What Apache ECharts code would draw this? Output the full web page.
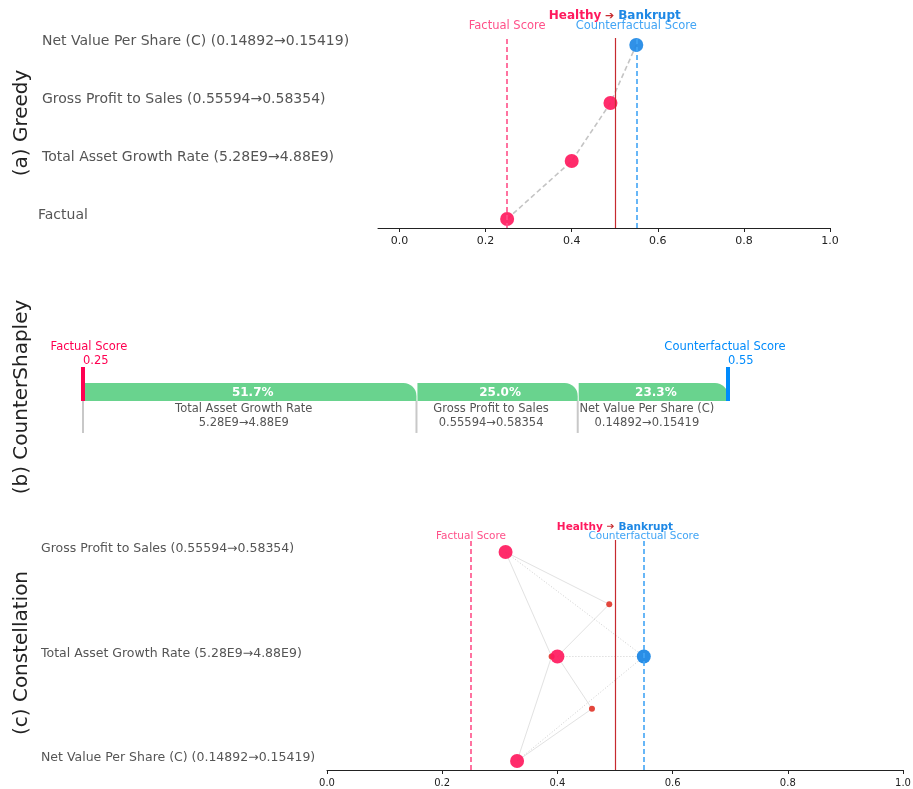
<!DOCTYPE html>
<html>
<head>
<meta charset="utf-8">
<script src="https://cdn.jsdelivr.net/npm/echarts@6/dist/echarts.min.js"></script>
<style>html,body{margin:0;padding:0;background:#fff}#main{width:913px;height:789px}</style>
</head>
<body>
<div id="main"></div>
<script>
// ---------- data ----------
const factualScore = 0.25;
const counterfactualScore = 0.55;
const threshold = 0.5;
const xTicks = [0, 0.2, 0.4, 0.6, 0.8, 1.0];

// (a) Greedy
const greedyLabels = ['Factual', 'Total Asset Growth Rate (5.28E9→4.88E9)', 'Gross Profit to Sales (0.55594→0.58354)', 'Net Value Per Share (C) (0.14892→0.15419)'];
const greedyScores = [0.25, 0.40, 0.49, 0.55];

// (b) CounterShapley
const shapleyFeatures = ['Total Asset Growth Rate', 'Gross Profit to Sales', 'Net Value Per Share (C)'];
const shapleyChanges = ['5.28E9→4.88E9', '0.55594→0.58354', '0.14892→0.15419'];
const shapleyPct = [51.7, 25.0, 23.3];

// (c) Constellation
const constLabels = ['Net Value Per Share (C) (0.14892→0.15419)', 'Total Asset Growth Rate (5.28E9→4.88E9)', 'Gross Profit to Sales (0.55594→0.58354)'];
const singleScores = [0.33, 0.40, 0.31];          // one feature changed, by row
const pairRows = [[2, 1], [1, 0], [2, 0]];         // two features changed
const pairScores = [0.49, 0.46, 0.39];
const fullScore = 0.55;                            // all three changed

// ---------- colours ----------
const PINK = '#ff1a5e';
const PINK_L = '#ff5089';
const BLUE = '#1e88e5';
const BLUE_L = '#42a5f5';
const DARKRED = '#c62a2f';
const GREEN = '#69d38e';
const FONT = 'DejaVu Sans';

const chart = echarts.init(document.getElementById('main'));

function fmt1(v) { return v.toFixed(1); }

function headerLabel(size, dist) {
  return {
    show: true, position: 'end', distance: dist,
    formatter: '{h|Healthy} {a|➔} {b|Bankrupt}',
    rich: {
      h: { color: PINK, fontWeight: 'bold', fontSize: size, fontFamily: FONT },
      a: { color: DARKRED, fontSize: size - 1, fontFamily: FONT },
      b: { color: BLUE, fontWeight: 'bold', fontSize: size, fontFamily: FONT }
    }
  };
}
function scoreLines(size, hsize, dist, hdrDist) {
  return {
    silent: true, symbol: 'none', animation: false,
    data: [
      { xAxis: factualScore, lineStyle: { color: PINK_L, type: [5, 3], width: 1.6 },
        label: { show: true, position: 'end', distance: dist, formatter: 'Factual Score', color: PINK_L, fontSize: size, fontFamily: FONT } },
      { xAxis: counterfactualScore, lineStyle: { color: BLUE_L, type: [5, 3], width: 1.6 },
        label: { show: true, position: 'end', distance: dist, formatter: 'Counterfactual Score', color: BLUE_L, fontSize: size, fontFamily: FONT } },
      { xAxis: threshold, lineStyle: { color: DARKRED, type: 'solid', width: 1.2 }, label: headerLabel(hsize, hdrDist) }
    ]
  };
}

// (b) segments
let cum = factualScore;
const span = counterfactualScore - factualScore;
const segData = shapleyPct.map((p, i) => { const s = cum; cum += span * p / 100; return [s, cum, p, i]; });

// (c) edges
const solidEdges = [], dottedEdges = [];
pairRows.forEach((rows, k) => {
  const py = (rows[0] + rows[1]) / 2;
  rows.forEach(r => solidEdges.push({ coords: [[singleScores[r], r], [pairScores[k], py]] }));
});
const fullY = (0 + 1 + 2) / 3;
singleScores.forEach((s, r) => dottedEdges.push({ coords: [[s, r], [fullScore, fullY]] }));

const axisLineStyle = { color: '#222', width: 1 };

const option = {
  animation: false,
  backgroundColor: '#fff',
  textStyle: { fontFamily: FONT },
  grid: [
    { left: 378, top: 38, width: 452, height: 190, outerBoundsMode: 'none' },
    { left: 83, top: 367, width: 645, height: 34, outerBoundsMode: 'none' },
    { left: 327, top: 540, width: 576, height: 230, outerBoundsMode: 'none' }
  ],
  xAxis: [
    { gridIndex: 0, type: 'value', min: -0.05, max: 1.0,
      axisLine: { onZero: false, lineStyle: axisLineStyle }, splitLine: { show: false },
      axisTick: { length: 4, customValues: xTicks, lineStyle: axisLineStyle },
      axisLabel: { customValues: xTicks, formatter: fmt1, color: '#222', fontSize: 11, margin: 8, fontFamily: FONT } },
    { gridIndex: 1, type: 'value', min: factualScore, max: counterfactualScore, show: false },
    { gridIndex: 2, type: 'value', min: 0, max: 1, interval: 0.2,
      axisLine: { onZero: false, lineStyle: axisLineStyle }, splitLine: { show: false },
      axisTick: { length: 4, lineStyle: axisLineStyle },
      axisLabel: { formatter: fmt1, color: '#222', fontSize: 10, margin: 8, fontFamily: FONT } }
  ],
  yAxis: [
    { gridIndex: 0, type: 'value', min: -0.155, max: 3.12,
      axisLine: { show: false }, axisTick: { show: false }, splitLine: { show: false },
      axisLabel: { customValues: [0, 1, 2, 3],
        formatter: v => { const i = Math.round(v); return i === 0 ? '{f|' + greedyLabels[i] + '}' : '{n|' + greedyLabels[i] + '}'; },
        rich: { f: { color: '#555', fontSize: 14, fontFamily: FONT }, n: { color: '#555', fontSize: 14, fontFamily: FONT, padding: [0, 0, 0, 4] } },
        align: 'left', margin: 340, verticalAlign: 'bottom', lineHeight: 8,
        color: '#555', fontSize: 14, fontFamily: FONT } },
    { gridIndex: 1, type: 'value', min: 0, max: 1, show: false },
    { gridIndex: 2, type: 'value', min: -0.086, max: 2.115,
      axisLine: { show: false }, axisTick: { show: false }, splitLine: { show: false },
      axisLabel: { customValues: [0, 1, 2], formatter: v => constLabels[Math.round(v)], align: 'left', margin: 286,
        verticalAlign: 'bottom', lineHeight: 6,
        color: '#555', fontSize: 12.5, fontFamily: FONT } }
  ],
  graphic: [
    { type: 'text', x: 22, y: 123, rotation: Math.PI / 2, style: { text: '(a) Greedy', font: '20px "DejaVu Sans"', fill: '#222', align: 'center', verticalAlign: 'middle' } },
    { type: 'text', x: 22, y: 397, rotation: Math.PI / 2, style: { text: '(b) CounterShapley', font: '20px "DejaVu Sans"', fill: '#222', align: 'center', verticalAlign: 'middle' } },
    { type: 'text', x: 22, y: 653, rotation: Math.PI / 2, style: { text: '(c) Constellation', font: '20px "DejaVu Sans"', fill: '#222', align: 'center', verticalAlign: 'middle' } }
  ],
  series: [
    // (a) reference lines
    { type: 'line', xAxisIndex: 0, yAxisIndex: 0, data: [], z: 1, markLine: scoreLines(11.5, 12, 6, 16) },
    // (a) greedy path
    { type: 'line', xAxisIndex: 0, yAxisIndex: 0, z: 3,
      data: greedyScores.map((s, i) => ({ value: [s, i], itemStyle: { color: i === greedyScores.length - 1 ? BLUE : PINK, opacity: 0.92 } })),
      symbol: 'circle', symbolSize: 14,
      lineStyle: { color: '#c4c4c4', width: 1.6, type: [5, 3] } },

    // (b) segments
    { type: 'custom', xAxisIndex: 1, yAxisIndex: 1, data: segData, clip: false,
      renderItem: function (params, api) {
        const s = api.value(0), e = api.value(1), p = api.value(2), i = api.value(3);
        const a = api.coord([s, 0.53]);
        const b = api.coord([e, 0]);
        const lb = api.coord([s, -0.94]);
        const x0 = a[0], x1 = b[0], yT = a[1], yB = b[1];
        return { type: 'group', children: [
          { type: 'line', shape: { x1: x0, y1: yB, x2: x0, y2: lb[1] }, style: { stroke: '#c8c8c8', lineWidth: 2 } },
          { type: 'rect', shape: { x: x0 + 1, y: yT, width: x1 - x0 - 1, height: yB - yT, r: [0, 13, 0, 0] }, style: { fill: GREEN } },
          { type: 'text', x: (x0 + x1) / 2 + 3, y: (yT + yB) / 2 + 1, style: { text: p.toFixed(1) + '%', fill: '#fff', font: 'bold 12px "DejaVu Sans"', align: 'center', verticalAlign: 'middle' } },
          { type: 'text', x: (x0 + x1) / 2 - 6, y: yB + 1, style: { text: shapleyFeatures[i] + '\n' + shapleyChanges[i], fill: '#555', font: '11.5px "DejaVu Sans"', align: 'center', verticalAlign: 'top', lineHeight: 14 } }
        ] };
      } },
    // (b) score markers
    { type: 'custom', xAxisIndex: 1, yAxisIndex: 1, clip: false, z: 5,
      data: [[factualScore, 0], [counterfactualScore, 1]],
      renderItem: function (params, api) {
        const v = api.value(0), k = api.value(1);
        const top = api.coord([v, 1]), bot = api.coord([v, 0]);
        const col = k === 0 ? '#ff0051' : '#008bfb';
        const name = k === 0 ? 'Factual Score' : 'Counterfactual Score';
        return { type: 'group', children: [
          { type: 'rect', shape: { x: top[0] - 2, y: top[1], width: 4, height: bot[1] - top[1] }, style: { fill: col } },
          { type: 'text', x: top[0] + (k === 0 ? 6 : -3), y: top[1] - 20, style: { text: name, fill: col, font: '11.5px "DejaVu Sans"', align: 'center', verticalAlign: 'middle' } },
          { type: 'text', x: top[0], y: top[1] - 6, style: { text: v.toFixed(2), fill: col, font: '11.5px "DejaVu Sans"', align: 'left', verticalAlign: 'middle' } }
        ] };
      } },

    // (c) reference lines
    { type: 'line', xAxisIndex: 2, yAxisIndex: 2, data: [], z: 1, markLine: scoreLines(10.5, 10.5, -2, 7) },
    // (c) edges
    { type: 'lines', coordinateSystem: 'cartesian2d', xAxisIndex: 2, yAxisIndex: 2, z: 2, silent: true,
      data: solidEdges, lineStyle: { color: '#e2e2e2', width: 1, type: 'solid', opacity: 1 } },
    { type: 'lines', coordinateSystem: 'cartesian2d', xAxisIndex: 2, yAxisIndex: 2, z: 2, silent: true,
      data: dottedEdges, lineStyle: { color: '#cfcfcf', width: 1, type: [1, 2], opacity: 1 } },
    // (c) pair dots
    { type: 'scatter', xAxisIndex: 2, yAxisIndex: 2, z: 3, symbolSize: 6,
      data: pairScores.map((s, k) => [s, (pairRows[k][0] + pairRows[k][1]) / 2]),
      itemStyle: { color: '#e3463c', opacity: 1 } },
    // (c) single-feature dots
    { type: 'scatter', xAxisIndex: 2, yAxisIndex: 2, z: 4, symbolSize: 14,
      data: singleScores.map((s, r) => [s, r]), itemStyle: { color: PINK, opacity: 0.92 } },
    // (c) all features
    { type: 'scatter', xAxisIndex: 2, yAxisIndex: 2, z: 4, symbolSize: 14,
      data: [[fullScore, fullY]], itemStyle: { color: BLUE, opacity: 0.95 } }
  ]
};
chart.setOption(option);
</script>
</body>
</html>
